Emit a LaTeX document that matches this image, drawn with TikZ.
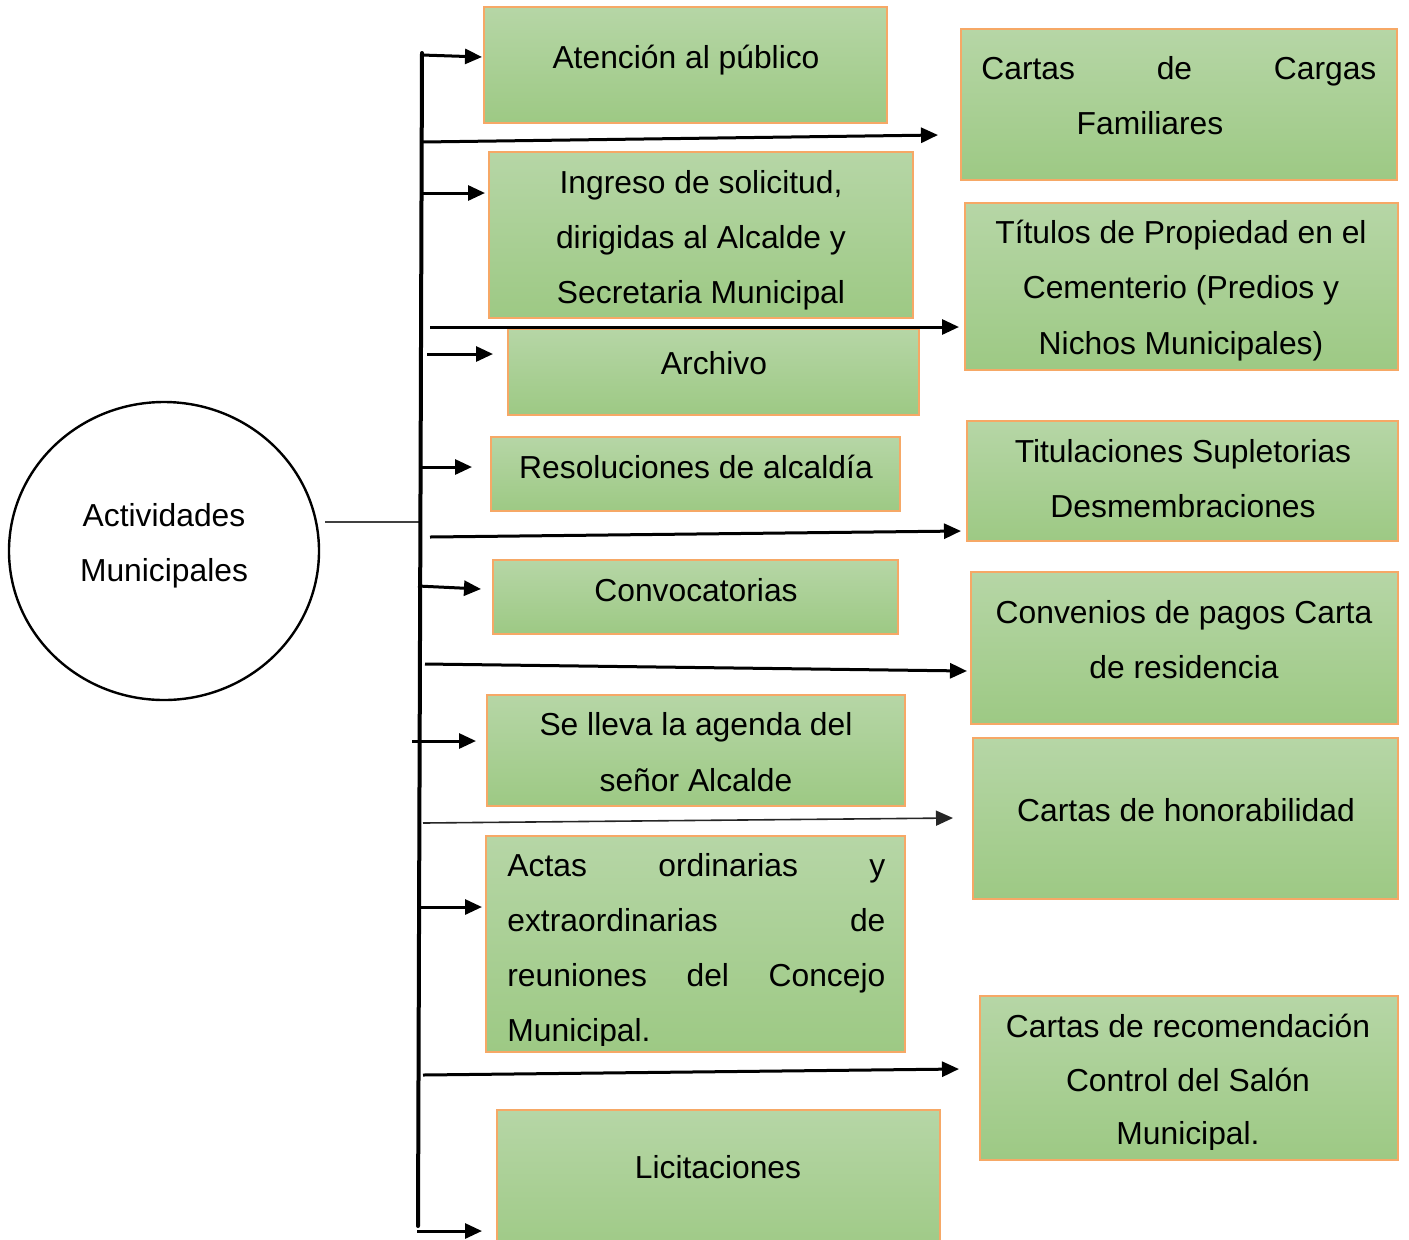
\documentclass[tikz,border=0pt]{standalone}
\usepackage{fontspec}
\setmainfont{Liberation Sans}
\usetikzlibrary{arrows.meta,fit,shapes.geometric}
\definecolor{boxtop}{RGB}{182,214,166}
\definecolor{boxbot}{RGB}{157,201,132}
\definecolor{boxedge}{RGB}{246,168,102}
\tikzset{
  box/.style={inner sep=0pt, draw=boxedge, line width=0.7pt,
    top color=boxtop, bottom color=boxbot},
  txt/.style={anchor=base, inner sep=0pt,
    font=\fontsize{15.9}{27.5}\selectfont},
  spine/.style={line width=2pt, line cap=round},
  link/.style={line width=1.5pt, -{Triangle[length=8.5pt,width=7.5pt]}},
  thinlink/.style={line width=0.8pt, black!85, -{Triangle[length=8.5pt,width=7.5pt]}}
}
\begin{document}
\begin{tikzpicture}[x=0.5pt,y=-0.5pt]
\useasboundingbox (0,0) rectangle (1409,1239);
\clip (0,0) rectangle (1409,1239);

% central circle
\node[ellipse, draw, line width=1.2pt, inner sep=0pt,
      minimum width=155pt, minimum height=149pt] (act) at (164,551) {};
\node[txt] (c1) at (164,526) {Actividades};
\node[txt] (c2) at (164,581) {Municipales};

% left column boxes
\node[box, fit={(484,7)(887,123)}] (b1) {};
\node[box, fit={(489,152)(913,318)}] (b2) {};
\node[box, fit={(508,329)(919,415)}] (b3) {};
\node[box, fit={(491,437)(900,511)}] (b4) {};
\node[box, fit={(493,560)(898,634)}] (b5) {};
\node[box, fit={(487,695)(905,806)}] (b6) {};
\node[box, fit={(486,836)(905,1052)}] (b7) {};
\node[box, fit={(497,1110)(940,1260)}] (b8) {};

% right column boxes
\node[box, fit={(961,29)(1397,180)}] (r1) {};
\node[box, fit={(965,203)(1398,370)}] (r2) {};
\node[box, fit={(967,421)(1398,541)}] (r3) {};
\node[box, fit={(971,572)(1398,724)}] (r4) {};
\node[box, fit={(973,738)(1398,899)}] (r5) {};
\node[box, fit={(980,996)(1398,1160)}] (r6) {};

% labels, left column
\node[txt] (t1) at (686,68) {Atención al público};
\node[txt] (t2a) at (701,193) {Ingreso de solicitud,};
\node[txt] (t2b) at (701,248) {dirigidas al Alcalde y};
\node[txt] (t2c) at (701,303) {Secretaria Municipal};
\node[txt] (t3) at (714,374) {Archivo};
\node[txt] (t4) at (696,478) {Resoluciones de alcaldía};
\node[txt] (t5) at (696,601) {Convocatorias};
\node[txt] (t6a) at (696,735) {Se lleva la agenda del};
\node[txt] (t6b) at (696,791) {señor Alcalde};
\begin{scope}
  \clip (486,836) rectangle (905,1045);
  \node[txt, anchor=base west] (t7a) at (507,876) {\makebox[189pt][s]{Actas\hfill ordinarias\hfill y}};
  \node[txt, anchor=base west] (t7b) at (507,931) {\makebox[189pt][s]{extraordinarias\hfill de}};
  \node[txt, anchor=base west] (t7c) at (507,986) {\makebox[189pt][s]{reuniones\hfill del\hfill Concejo}};
  \node[txt, anchor=base west] (t7d) at (507,1041) {Municipal.};
\end{scope}
\node[txt] (t8) at (718,1178) {Licitaciones};

% labels, right column
\node[txt, anchor=base west] (s1a) at (981,79) {\makebox[197.5pt][s]{Cartas\hfill de\hfill Cargas}};
\node[txt] (s1b) at (1150,134) {Familiares};
\node[txt] (s2a) at (1181,243) {Títulos de Propiedad en el};
\node[txt] (s2b) at (1181,298) {Cementerio (Predios y};
\node[txt] (s2c) at (1181,354) {Nichos Municipales)};
\node[txt] (s3a) at (1183,462) {Titulaciones Supletorias};
\node[txt] (s3b) at (1183,517) {Desmembraciones};
\node[txt] (s4a) at (1184,623) {Convenios de pagos Carta};
\node[txt] (s4b) at (1184,678) {de residencia};
\node[txt] (s5) at (1186,821) {Cartas de honorabilidad};
\begin{scope}
  \clip (980,996) rectangle (1398,1149);
  \node[txt] (s6a) at (1188,1037) {Cartas de recomendación};
  \node[txt] (s6b) at (1188,1091) {Control del Salón};
  \node[txt] (s6c) at (1188,1144) {Municipal.};
\end{scope}

% connection from the circle to the spine
\coordinate (hub) at (420,522);
\draw[line width=0.8pt, black!75] ([xshift=2.5pt]act.east |- hub) -- (hub);

% vertical spine
\coordinate (sTop) at (422,53);
\coordinate (sBot) at (418,1226);
\draw[spine] (sTop) -- (sBot);

% arrows to the left column
\coordinate (e1) at (482,57);
\coordinate (e2) at (485,193);
\coordinate (e3) at (493,354);
\coordinate (e4) at (472,467);
\coordinate (e5) at (481,589);
\coordinate (e6) at (476,741);
\coordinate (e7) at (482,907);
\coordinate (e8) at (482,1231);
\draw[link] (422,55) -- (e1);
\draw[link] (421,193) -- (e2);
\draw[link] (427,354) -- (e3);
\draw[link] (420,467) -- (e4);
\draw[link] (418,586) -- (e5);
\draw[link] (412,741) -- (e6);
\draw[link] (419,907) -- (e7);
\draw[link] (417,1231) -- (e8);

% arrows to the right column
\coordinate (f1) at (938,135);
\coordinate (f2) at (959,327);
\coordinate (f3) at (961,531);
\coordinate (f4) at (967,671);
\coordinate (f5) at (953,818);
\coordinate (f6) at (959,1069);
\draw[link] (422,142) -- (f1);
\draw[link] (430,327) -- (f2);
\draw[link] (430,537) -- (f3);
\draw[link] (425,664) -- (f4);
\draw[thinlink] (423,823) -- (f5);
\draw[link] (423,1075) -- (f6);
\end{tikzpicture}
\end{document}
